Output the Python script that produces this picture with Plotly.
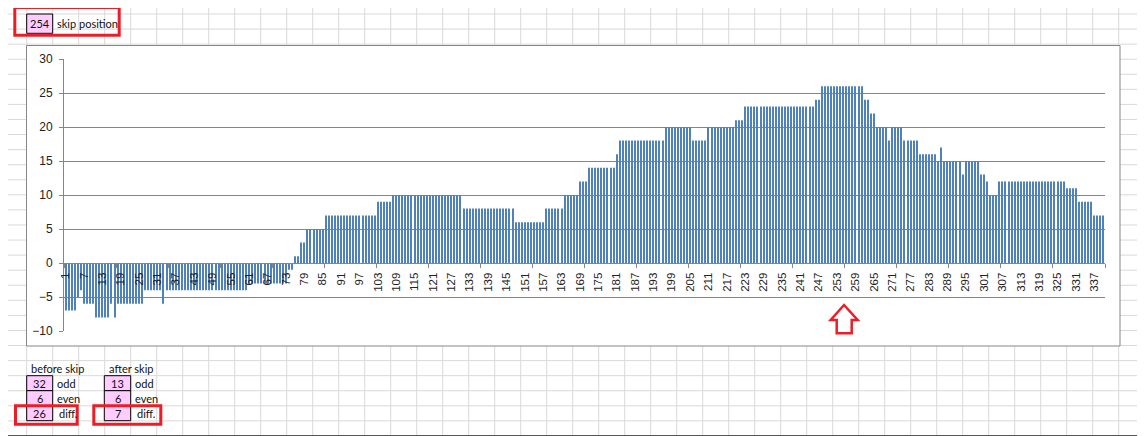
import plotly.graph_objects as go

# ---------------- data ----------------
categories = list(range(1, 341))
values = [
    -7, -7, -7, -7, -5, -4, -6, -6, -6, -6,
    -8, -8, -8, -8, -8, -6, -8, -6, -6, -6,
    -6, -6, -6, -6, -6, -6, -4, -4, -4, -4,
    -4, -4, -6, -4, -4, -4, -4, -4, -4, -4,
    -4, -4, -4, -4, -4, -4, -4, -4, -4, -4,
    -4, -4, -4, -4, -4, -4, -4, -4, -4, -4,
    -3, -3, -3, -3, -3, -3, -3, -3, -3, -3,
    -3, -3, -3, -1, -1, 1, 1, 3, 3, 5,
    5, 5, 5, 5, 5, 7, 7, 7, 7, 7,
    7, 7, 7, 7, 7, 7, 7, 7, 7, 7,
    7, 7, 9, 9, 9, 9, 9, 10, 10, 10,
    10, 10, 10, 10, 10, 10, 10, 10, 10, 10,
    10, 10, 10, 10, 10, 10, 10, 10, 10, 10,
    8, 8, 8, 8, 8, 8, 8, 8, 8, 8,
    8, 8, 8, 8, 8, 8, 8, 6, 6, 6,
    6, 6, 6, 6, 6, 6, 6, 8, 8, 8,
    8, 8, 8, 10, 10, 10, 10, 10, 12, 12,
    12, 14, 14, 14, 14, 14, 14, 14, 14, 14,
    16, 18, 18, 18, 18, 18, 18, 18, 18, 18,
    18, 18, 18, 18, 18, 18, 20, 20, 20, 20,
    20, 20, 20, 20, 20, 18, 18, 18, 18, 18,
    20, 20, 20, 20, 20, 20, 20, 20, 20, 21,
    21, 21, 23, 23, 23, 23, 23, 23, 23, 23,
    23, 23, 23, 23, 23, 23, 23, 23, 23, 23,
    23, 23, 23, 23, 23, 24, 24, 26, 26, 26,
    26, 26, 26, 26, 26, 26, 26, 26, 26, 26,
    26, 24, 24, 22, 22, 20, 20, 20, 20, 18,
    20, 20, 20, 20, 18, 18, 18, 18, 18, 16,
    16, 16, 16, 16, 16, 15, 17, 15, 15, 15,
    15, 15, 15, 13, 15, 15, 15, 15, 15, 13,
    13, 12, 10, 10, 10, 12, 12, 12, 12, 12,
    12, 12, 12, 12, 12, 12, 12, 12, 12, 12,
    12, 12, 12, 12, 12, 12, 12, 11, 11, 11,
    11, 9, 9, 9, 9, 9, 7, 7, 7, 7,
]
label_every = 6
tick_labels = [c for c in categories if (c - 1) % label_every == 0]
y_ticks = [-10, -5, 0, 5, 10, 15, 20, 25, 30]

skip_position = 254
before_skip = {"odd": 32, "even": 6, "diff.": 26}
after_skip = {"odd": 13, "even": 6, "diff.": 7}

# ---------------- layout helpers ----------------
# page is offset by the browser's 8px body margin
PAGE_W, PAGE_H, OFF = 1145, 436, 8
W, H = PAGE_W - OFF, PAGE_H - OFF
PL, PR, PT, PB = 64, 1105, 59, 331          # plot area in page pixels
ML, MT = PL - OFF, PT - OFF
MR, MB = W - (PR - OFF), H - (PB - OFF)
PW, PH = PR - PL, PB - PT


def xp(px):
    return (px - PL) / PW


def yp(py):
    return (PB - py) / PH


BAR = "#4f81bd"
AXIS = "#868686"
CELL = "#d9d9d9"
RED = "#ee1c25"
PINK = "#ffccff"
FONT = "Lato"

fig = go.Figure()
fig.add_trace(go.Bar(x=categories, y=values, marker_color=BAR,
                     marker_line_width=0, hoverinfo="x+y"))

shapes = []
# spreadsheet cell grid
k = 0
while 0.7 + 26 * k < PAGE_W:
    x = 0.7 + 26 * k
    shapes.append(dict(type="line", xref="paper", yref="paper", layer="below",
                       x0=xp(x), x1=xp(x), y0=yp(0), y1=yp(PAGE_H),
                       line=dict(color=CELL, width=1)))
    k += 1
k = 0
while 14 + 15.07 * k < PAGE_H - 1:
    y = 14 + 15.07 * k
    shapes.append(dict(type="line", xref="paper", yref="paper", layer="below",
                       x0=xp(0), x1=xp(PAGE_W), y0=yp(y), y1=yp(y),
                       line=dict(color=CELL, width=1)))
    k += 1
# chart box
shapes.append(dict(type="rect", xref="paper", yref="paper", layer="below",
                   x0=xp(26.5), x1=xp(1120), y0=yp(45.5), y1=yp(346),
                   fillcolor="white", line=dict(color=AXIS, width=1)))
# bottom dark line
shapes.append(dict(type="line", xref="paper", yref="paper",
                   x0=xp(0), x1=xp(PAGE_W), y0=yp(435.5), y1=yp(435.5),
                   line=dict(color="#555555", width=1)))


def box(x0, y0, x1, y1, fill=PINK, color="black", width=1):
    shapes.append(dict(type="rect", xref="paper", yref="paper",
                       x0=xp(x0), x1=xp(x1), y0=yp(y0), y1=yp(y1),
                       fillcolor=fill, line=dict(color=color, width=width)))


annotations = []


def text(s, x, y, anchor="left", size=11):
    annotations.append(dict(text=s, x=xp(x), y=yp(y), xref="paper", yref="paper",
                            xanchor=anchor, yanchor="middle", showarrow=False,
                            font=dict(family=FONT, size=size, color="#111111")))


# top-left skip position
box(26.7, 14, 52.7, 33.3)
text(str(skip_position), 39.7, 23.8, "center")
text("skip position", 55, 23.8)
box(14.8, 7.5, 119.2, 35.2, fill="rgba(0,0,0,0)", color=RED, width=3)

# bottom tables
rows_y = [375.7, 390.7, 405.7, 420.7]
for (bx0, bx1, lx, title, tx, data) in [
    (26.7, 52.7, 55, "before skip", 29.3, before_skip),
    (104.3, 130.7, 133.3, "after skip", 107.3, after_skip),
]:
    text(title, tx, 368.5)
    for i, (name, val) in enumerate(data.items()):
        box(bx0, rows_y[i], bx1, rows_y[i + 1])
        text(str(val), (bx0 + bx1) / 2, (rows_y[i] + rows_y[i + 1]) / 2 + 0.5, "center")
        text(name, lx + (2 if name == "diff." else 0), (rows_y[i] + rows_y[i + 1]) / 2 + 0.5)
box(15.5, 405.8, 77.2, 424.2, fill="rgba(0,0,0,0)", color=RED, width=3)
box(93.8, 405.8, 160.8, 424.2, fill="rgba(0,0,0,0)", color=RED, width=3)

# red arrow
pts = [(844, 305), (857.7, 320), (851.7, 320), (851.7, 333.3),
       (836.7, 333.3), (836.7, 320), (830.7, 320)]
path = "M " + " L ".join(f"{xp(a):.5f},{yp(b):.5f}" for a, b in pts) + " Z"
shapes.append(dict(type="path", xref="paper", yref="paper", path=path,
                   fillcolor="white", line=dict(color=RED, width=2.5)))

fig.update_layout(
    width=W, height=H,
    margin=dict(l=ML, r=MR, t=MT, b=MB, pad=0),
    paper_bgcolor="white", plot_bgcolor="rgba(0,0,0,0)",
    showlegend=False, bargap=0.66,
    shapes=shapes, annotations=annotations,
    xaxis=dict(range=[0.5, 340.5], anchor="free", position=0.25,
               showline=True, linecolor=AXIS, linewidth=1,
               showgrid=False, zeroline=False,
               tickmode="array", tickvals=tick_labels,
               ticktext=[str(v) for v in tick_labels],
               tickangle=-90, ticks="", ticklabelstandoff=4,
               tickfont=dict(family="Liberation Sans", size=11.5, color="#222222"),
               minor=dict(tickmode="array",
                          tickvals=[0.5 + 17 * i for i in range(21)],
                          ticks="outside", ticklen=4, tickcolor=AXIS, showgrid=False),
               automargin=False),
    yaxis=dict(range=[-10, 30], tickmode="array", tickvals=y_ticks,
               showline=True, linecolor=AXIS, linewidth=1,
               showgrid=True, gridcolor=AXIS, gridwidth=1, zeroline=False,
               ticks="outside", ticklen=4, tickcolor=AXIS, ticklabelstandoff=4,
               tickfont=dict(family="Liberation Sans", size=12, color="#222222"),
               automargin=False),
)

fig.write_html("out.html")
